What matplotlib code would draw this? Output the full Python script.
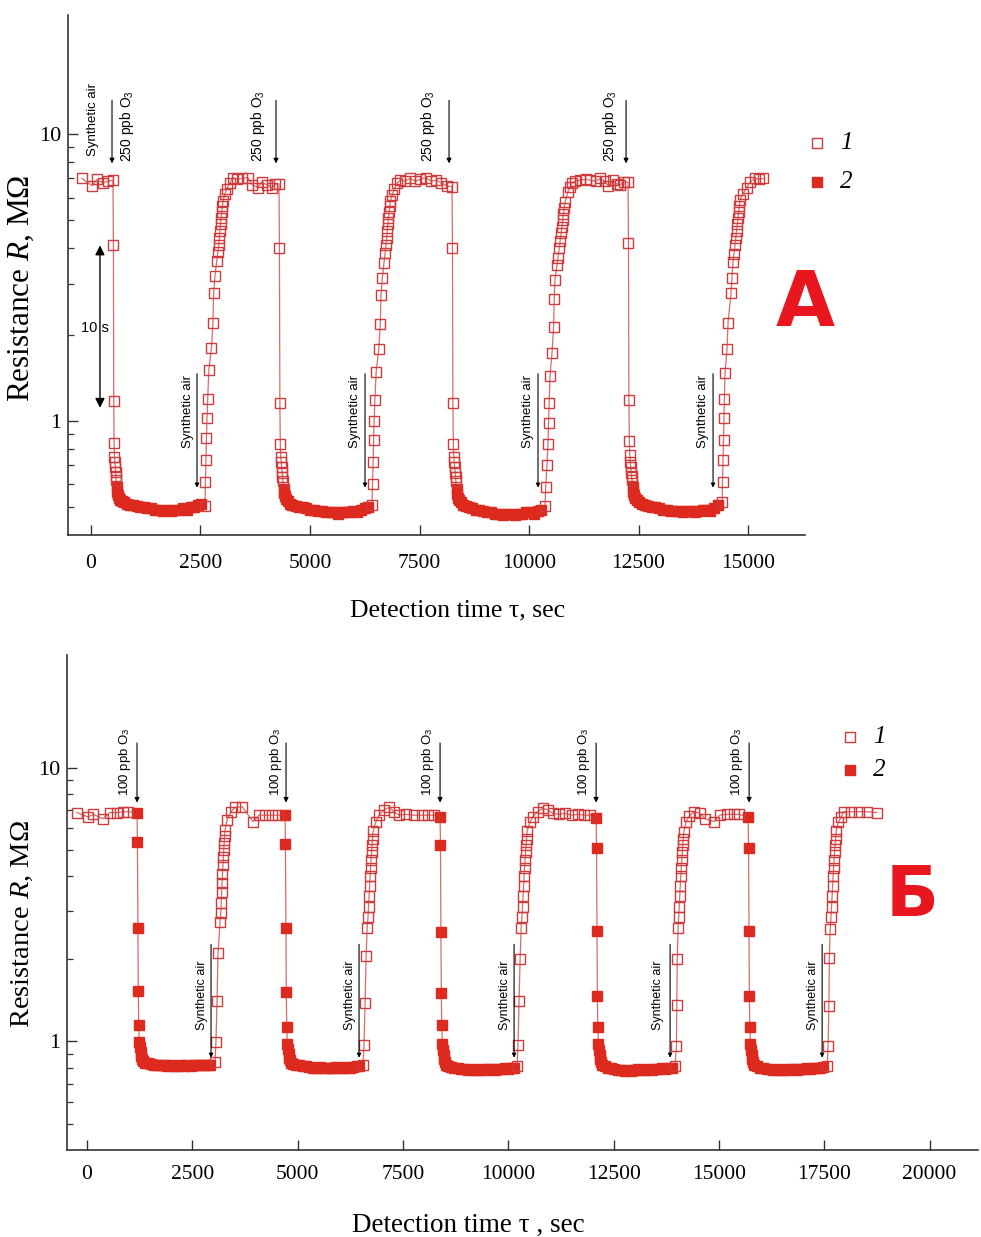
import numpy as np
import matplotlib
matplotlib.use('Agg')
import matplotlib.pyplot as plt
from matplotlib.lines import Line2D
from matplotlib.ticker import FixedLocator, FixedFormatter, NullFormatter

plt.rcParams['mathtext.fontset'] = 'custom'
plt.rcParams['mathtext.rm'] = 'Liberation Sans'
plt.rcParams['mathtext.sf'] = 'Liberation Sans'
plt.rcParams['mathtext.it'] = 'Liberation Serif:italic'

# ---------------- Panel A data (250 ppb O3) ----------------
# series 1 (open squares): time, s ; resistance, MOhm
A1_t = [-205, 23, 137, 274, 390, 502,
        512, 520, 528, 536, 544, 552, 560, 568, 576,
        2600, 2612, 2624, 2636, 2648, 2665, 2690, 2750, 2785, 2800, 2830, 2870, 2895, 2915, 2930,
        2945, 2958, 2970, 2985, 3000, 3015, 3060, 3105, 3170, 3240, 3340, 3450, 3580, 3680, 3810,
        3900, 4020, 4130, 4210, 4292,
        4302, 4312, 4322, 4332, 4342, 4352, 4362, 4372, 4382,
        6415, 6427, 6439, 6452, 6464, 6480, 6510, 6570, 6605, 6620, 6650, 6690, 6715, 6735, 6750,
        6765, 6778, 6790, 6805, 6820, 6835, 6880, 6925, 6990, 7060, 7170, 7280, 7400, 7520, 7640,
        7760, 7880, 8000, 8120, 8242,
        8252, 8262, 8272, 8282, 8292, 8302, 8312, 8322, 8332,
        10365, 10380, 10410, 10433, 10445, 10460, 10479, 10525, 10560, 10575, 10593, 10639, 10662,
        10690, 10710, 10730, 10750, 10770, 10785, 10800, 10821, 10890, 10940, 10990, 11050, 11164,
        11300, 11392, 11520, 11620, 11730, 11803, 11917, 12000, 12077, 12160, 12260,
        12270, 12280, 12290, 12300, 12310, 12320, 12330, 12340, 12350,
        14406, 14418, 14429, 14440, 14451, 14462, 14474, 14520, 14543, 14611, 14634, 14657, 14680,
        14702, 14720, 14740, 14755, 14770, 14785, 14800, 14817, 14885, 14977, 15045, 15159, 15250,
        15342]
A1_r = [7.0, 6.6, 6.95, 6.75, 6.85, 6.9,
        4.1, 1.17, 0.84, 0.75, 0.72, 0.69, 0.665, 0.64, 0.62,
        0.505, 0.61, 0.73, 0.87, 1.02, 1.19, 1.50, 1.80, 2.2, 2.78, 3.2, 3.6, 3.87, 4.1, 4.35,
        4.6, 4.85, 5.1, 5.35, 5.6, 5.85, 6.2, 6.45, 6.75, 7.05, 6.95, 7.0, 7.05, 6.65, 6.5,
        6.8, 6.65, 6.5, 6.7, 6.7,
        4.0, 1.15, 0.83, 0.75, 0.72, 0.69, 0.66, 0.635, 0.615,
        0.51, 0.6, 0.72, 0.86, 1.0, 1.18, 1.48, 1.78, 2.18, 2.75, 3.15, 3.55, 3.85, 4.1, 4.35,
        4.6, 4.85, 5.1, 5.35, 5.6, 5.85, 6.15, 6.45, 6.75, 6.9, 6.85, 7.0, 6.85, 6.95, 7.05,
        6.85, 6.9, 6.75, 6.6, 6.55,
        4.0, 1.15, 0.83, 0.75, 0.72, 0.69, 0.66, 0.635, 0.615,
        0.505, 0.59, 0.70, 0.83, 0.98, 1.15, 1.43, 1.73, 2.12, 2.67, 3.1, 3.5, 3.7,
        4.0, 4.25, 4.5, 4.75, 5.0, 5.25, 5.5, 5.8, 6.3, 6.55, 6.75, 6.85, 6.9,
        6.95, 6.9, 6.85, 7.0, 6.85, 6.6, 6.9, 6.7, 6.65, 6.8, 6.8,
        4.16, 1.18, 0.85, 0.76, 0.72, 0.69, 0.66, 0.64, 0.62,
        0.52, 0.61, 0.73, 0.86, 1.02, 1.19, 1.47, 1.78, 2.2, 2.78, 3.15, 3.57, 3.83,
        4.1, 4.35, 4.6, 4.85, 5.1, 5.35, 5.6, 5.9, 6.2, 6.5, 6.8, 7.0, 6.95,
        7.0]
# series 2 (filled squares)
A2_t = [590, 605, 620, 640, 670, 710, 760, 820, 890, 960, 1040, 1120, 1200, 1290, 1380, 1470,
        1560, 1650, 1740, 1830, 1920, 2010, 2100, 2190, 2280, 2360, 2440, 2510,
        4395, 4410, 4430, 4455, 4490, 4540, 4600, 4670, 4750, 4830, 4910, 5000, 5090, 5180, 5270,
        5360, 5450, 5540, 5630, 5720, 5810, 5900, 5990, 6080, 6170, 6250, 6320,
        8345, 8360, 8380, 8405, 8440, 8490, 8550, 8620, 8700, 8780, 8860, 8950, 9040, 9130, 9220,
        9310, 9400, 9490, 9580, 9670, 9760, 9850, 9940, 10030, 10120, 10200, 10280,
        12365, 12380, 12400, 12425, 12460, 12510, 12570, 12640, 12720, 12800, 12880, 12970, 13060,
        13150, 13240, 13330, 13420, 13510, 13600, 13690, 13780, 13870, 13960, 14050, 14140, 14230,
        14310]
A2_r = [0.59, 0.565, 0.55, 0.54, 0.53, 0.525, 0.52, 0.515, 0.51, 0.51, 0.505, 0.50, 0.50, 0.495,
        0.495, 0.49, 0.49, 0.485, 0.49, 0.485, 0.49, 0.49, 0.495, 0.49, 0.50, 0.50, 0.51, 0.515,
        0.58, 0.56, 0.545, 0.535, 0.525, 0.515, 0.51, 0.505, 0.50, 0.50, 0.495, 0.49, 0.49, 0.485,
        0.485, 0.48, 0.48, 0.48, 0.475, 0.48, 0.48, 0.48, 0.485, 0.48, 0.49, 0.495, 0.50,
        0.58, 0.555, 0.54, 0.53, 0.52, 0.51, 0.505, 0.50, 0.495, 0.49, 0.49, 0.485, 0.48, 0.48,
        0.475, 0.475, 0.47, 0.475, 0.475, 0.47, 0.475, 0.475, 0.48, 0.48, 0.475, 0.485, 0.49,
        0.59, 0.565, 0.55, 0.54, 0.53, 0.52, 0.515, 0.51, 0.505, 0.50, 0.50, 0.495, 0.49,
        0.49, 0.485, 0.485, 0.485, 0.48, 0.485, 0.485, 0.48, 0.485, 0.49, 0.49, 0.485, 0.495,
        0.51]

# ---------------- Panel B data (100 ppb O3) ----------------
B1_t = [-237, 24, 142, 380, 546, 712, 855, 973,
        3039, 3060, 3086, 3110, 3157, 3175, 3185, 3195, 3205, 3215, 3225, 3235, 3245, 3255, 3265,
        3275, 3324, 3419, 3514, 3680, 3941, 4083, 4226, 4392, 4534,
        6552, 6575, 6600, 6625, 6650, 6670, 6682, 6694, 6706, 6718, 6730, 6742, 6754, 6766, 6778,
        6790, 6860, 6930, 7050, 7170, 7290, 7400, 7560, 7750, 7950, 8100, 8230,
        10208, 10230, 10255, 10280, 10305, 10325, 10337, 10349, 10361, 10373, 10385, 10397, 10409,
        10421, 10433, 10445, 10510, 10580, 10700, 10820, 10940, 11060, 11200, 11350, 11500, 11650,
        11800, 11950,
        13959, 13990, 14000, 14010, 14030, 14045, 14057, 14069, 14081, 14093, 14105, 14117, 14129,
        14141, 14153, 14165, 14220, 14300, 14410, 14550, 14670, 14880, 15020, 15190, 15360, 15480,
        17568, 17590, 17610, 17620, 17640, 17660, 17672, 17684, 17696, 17708, 17720, 17732, 17744,
        17756, 17768, 17780, 17830, 17900, 17960, 18140, 18330, 18520, 18750]
B1_r = [6.85, 6.6, 6.75, 6.5, 6.85, 6.85, 6.9, 6.9,
        0.84, 0.99, 1.40, 2.1, 2.72, 2.95, 3.2, 3.5, 3.8, 4.1, 4.4, 4.7, 5.0, 5.3, 5.6,
        5.9, 6.45, 6.9, 7.15, 7.2, 6.35, 6.7, 6.7, 6.7, 6.7,
        0.82, 0.97, 1.38, 2.05, 2.6, 2.85, 3.1, 3.4, 3.7, 4.0, 4.3, 4.6, 4.9, 5.2, 5.5,
        5.85, 6.35, 6.7, 7.0, 7.15, 6.9, 6.7, 6.75, 6.7, 6.7, 6.7, 6.7,
        0.81, 0.97, 1.4, 2.0, 2.6, 2.85, 3.1, 3.4, 3.7, 4.0, 4.3, 4.6, 4.9,
        5.2, 5.5, 5.85, 6.3, 6.6, 6.9, 7.1, 7.0, 6.8, 6.75, 6.8, 6.7, 6.75,
        6.7, 6.7,
        0.81, 0.96, 1.36, 2.0, 2.6, 2.85, 3.1, 3.4, 3.7, 4.0, 4.3, 4.6, 4.9,
        5.2, 5.5, 5.8, 6.35, 6.65, 6.9, 6.8, 6.5, 6.35, 6.7, 6.75, 6.75, 6.75,
        0.81, 0.96, 1.35, 2.02, 2.56, 2.85, 3.1, 3.4, 3.7, 4.0, 4.3, 4.6, 4.9,
        5.2, 5.5, 5.85, 6.3, 6.6, 6.9, 6.9, 6.9, 6.9, 6.85]
B2_t = [1187, 1197, 1207, 1217, 1227, 1240, 1255, 1270, 1285, 1300, 1330, 1380, 1440, 1510, 1580,
        1660, 1740, 1820, 1900, 1980, 2060, 2140, 2220, 2300, 2380, 2460, 2540, 2620, 2700, 2780,
        2860, 2930,
        4700, 4710, 4720, 4730, 4740, 4755, 4770, 4785, 4800, 4815, 4850, 4900, 4970, 5040, 5120,
        5200, 5280, 5360, 5440, 5520, 5600, 5680, 5760, 5840, 5920, 6000, 6080, 6160, 6240, 6320,
        6400, 6460,
        8380, 8390, 8400, 8410, 8420, 8435, 8450, 8465, 8480, 8495, 8530, 8580, 8650, 8720, 8800,
        8880, 8960, 9040, 9120, 9200, 9280, 9360, 9440, 9520, 9600, 9680, 9760, 9840, 9920, 10000,
        10080, 10140,
        12084, 12094, 12104, 12114, 12124, 12139, 12154, 12169, 12184, 12199, 12230, 12290, 12360,
        12440, 12520, 12600, 12680, 12760, 12840, 12920, 13000, 13080, 13160, 13240, 13320, 13400,
        13480, 13560, 13640, 13720, 13800, 13880,
        15692, 15702, 15712, 15722, 15732, 15747, 15762, 15777, 15792, 15807, 15840, 15900, 15970,
        16050, 16130, 16210, 16290, 16370, 16450, 16530, 16610, 16690, 16770, 16850, 16930, 17010,
        17090, 17170, 17250, 17330, 17410, 17480]
B2_r = [6.85, 5.33, 2.6, 1.52, 1.15, 0.99, 0.95, 0.91, 0.88, 0.86, 0.845, 0.835, 0.83, 0.825,
        0.82, 0.82, 0.815, 0.815, 0.81, 0.815, 0.81, 0.81, 0.815, 0.81, 0.815, 0.81, 0.815, 0.815,
        0.82, 0.815, 0.82, 0.82,
        6.7, 5.24, 2.59, 1.51, 1.13, 0.98, 0.94, 0.90, 0.87, 0.85, 0.835, 0.825, 0.82, 0.815, 0.81,
        0.81, 0.805, 0.80, 0.80, 0.805, 0.80, 0.795, 0.80, 0.80, 0.805, 0.80, 0.80, 0.805, 0.80,
        0.805, 0.81, 0.81,
        6.6, 5.2, 2.5, 1.5, 1.15, 0.98, 0.93, 0.89, 0.86, 0.84, 0.82, 0.81, 0.805, 0.80, 0.795,
        0.79, 0.79, 0.785, 0.79, 0.785, 0.785, 0.79, 0.785, 0.79, 0.79, 0.785, 0.79, 0.79, 0.795,
        0.79, 0.795, 0.80,
        6.57, 5.1, 2.52, 1.46, 1.13, 0.98, 0.93, 0.89, 0.86, 0.84, 0.82, 0.81, 0.80, 0.795, 0.79,
        0.785, 0.785, 0.78, 0.785, 0.78, 0.785, 0.79, 0.785, 0.785, 0.79, 0.785, 0.79, 0.79, 0.795,
        0.79, 0.795, 0.80,
        6.6, 5.1, 2.52, 1.46, 1.13, 0.98, 0.93, 0.89, 0.86, 0.84, 0.82, 0.81, 0.80, 0.795, 0.79,
        0.79, 0.785, 0.785, 0.79, 0.785, 0.785, 0.79, 0.79, 0.785, 0.79, 0.79, 0.795, 0.79, 0.795,
        0.80, 0.80, 0.805]

A_xticks = [0, 2500, 5000, 7500, 10000, 12500, 15000]
B_xticks = [0, 2500, 5000, 7500, 10000, 12500, 15000, 17500, 20000]
y_major = [1, 10]
y_major_labels = ['1', '10']
y_minor = [0.5, 0.6, 0.7, 0.8, 0.9, 2, 3, 4, 5, 6, 7, 8, 9]

# annotation anchors (time, resistance)
A_o3_arrow_t = [480, 4224, 8174, 12215]
A_o3_text_t = [822, 3813, 7694, 11850]
A_air_arrow_t = [2420, 6256, 10205, 14201]
A_air_text_t = [2215, 6027, 9977, 13972]
B_o3_arrow_t = [1187, 4724, 8380, 12084, 15716]
B_o3_text_t = [902, 4487, 8095, 11799, 15431]
B_air_arrow_t = [2944, 6457, 10137, 13840, 17449]
B_air_text_t = [2730, 6244, 9923, 13555, 17235]

OPEN_EC = '#cf3b3b'
FILL_C = '#dc2a1e'
LINE_C = '#dd6a6a'
SERIF = 'Liberation Serif'
SANS = 'Liberation Sans'

fig = plt.figure(figsize=(9.81, 12.37), dpi=100)
axA = fig.add_axes([0.0693, 0.5675, 0.7513, 0.4204])
axB = fig.add_axes([0.0683, 0.0703, 0.9287, 0.4002])


def draw(ax, t1, r1, t2, r2, ms):
    t_all = np.concatenate([t1, t2])
    r_all = np.concatenate([r1, r2])
    order = np.argsort(t_all, kind='stable')
    ax.plot(t_all[order], r_all[order], '-', color=LINE_C, lw=0.9, zorder=1)
    ax.plot(t2, r2, 's', ls='none', ms=ms, mfc=FILL_C, mec=FILL_C, mew=1.0, zorder=3)
    ax.plot(t1, r1, 's', ls='none', ms=ms, mfc='none', mec=OPEN_EC, mew=1.0, zorder=4)


def style(ax, xticks, xlim, ylim, xpad):
    ax.set_yscale('log')
    ax.set_xlim(*xlim)
    ax.set_ylim(*ylim)
    for s in ['top', 'right']:
        ax.spines[s].set_visible(False)
    for s in ['left', 'bottom']:
        ax.spines[s].set_color('#333333')
        ax.spines[s].set_linewidth(1.2)
    ax.xaxis.set_major_locator(FixedLocator(xticks))
    ax.yaxis.set_major_locator(FixedLocator(y_major))
    ax.yaxis.set_major_formatter(FixedFormatter(y_major_labels))
    ax.yaxis.set_minor_locator(FixedLocator(y_minor))
    ax.yaxis.set_minor_formatter(NullFormatter())
    ax.xaxis.set_minor_locator(FixedLocator([]))
    ax.tick_params(axis='x', which='major', direction='in', length=7, width=1.0,
                   color='#333333', labelsize=15.5, pad=xpad)
    ax.tick_params(axis='y', which='major', direction='in', length=7, width=1.0,
                   color='#333333', labelsize=16, pad=5)
    ax.tick_params(axis='y', which='minor', direction='in', length=4, width=0.9, color='#333333')
    for lab in ax.get_xticklabels() + ax.get_yticklabels():
        lab.set_fontfamily(SERIF)


def arrow(ax, t, top, bottom, ms=7, lw=0.8):
    ax.annotate('', xy=(t, bottom), xytext=(t, top),
                arrowprops=dict(arrowstyle='-|>', color='black', lw=lw,
                                mutation_scale=ms, shrinkA=0, shrinkB=0), zorder=5)


# ---------------- Panel A ----------------
draw(axA, np.array(A1_t), np.array(A1_r), np.array(A2_t), np.array(A2_r), 7.8)
style(axA, A_xticks, (-525, 16300), (0.40, 26), 14)
axA.set_xlabel('Detection time τ, sec', fontfamily=SERIF, fontsize=18.5)
axA.xaxis.set_label_coords(0.528, -0.124)
axA.set_ylabel('Resistance $\\mathit{R}$, MΩ', fontfamily=SERIF, fontsize=22.5)
axA.yaxis.set_label_coords(-0.044, 0.475)

for ta, tt in zip(A_o3_arrow_t, A_o3_text_t):
    arrow(axA, ta, 13.1, 7.9)
    axA.text(tt, 10.66, '250 ppb O$_3$', rotation=90, ha='center', va='center',
             fontsize=10, fontfamily=SANS)
for ta, tt in zip(A_air_arrow_t, A_air_text_t):
    arrow(axA, ta, 1.46, 0.585, ms=6)
    axA.text(tt, 1.08, 'Synthetic air', rotation=90, ha='center', va='center',
             fontsize=9.5, fontfamily=SANS)
axA.text(46, 11.2, 'Synthetic air', rotation=90, ha='center', va='center',
         fontsize=9.5, fontfamily=SANS)
axA.annotate('', xy=(205, 1.11), xytext=(205, 4.09),
             arrowprops=dict(arrowstyle='<|-|>', color='black', lw=1.0,
                             mutation_scale=14, shrinkA=0, shrinkB=0))
axA.text(91, 2.11, '10 s', ha='center', va='center', fontsize=10.5, fontfamily=SANS)

# ---------------- Panel B ----------------
draw(axB, np.array(B1_t), np.array(B1_r), np.array(B2_t), np.array(B2_r), 7.4)
style(axB, B_xticks, (-475, 21150), (0.40, 25.8), 11)
axB.set_xlabel('Detection time τ , sec', fontfamily=SERIF, fontsize=19.5)
axB.xaxis.set_label_coords(0.441, -0.127)
axB.set_ylabel('Resistance $\\mathit{R}$, MΩ', fontfamily=SERIF, fontsize=20.5)
axB.yaxis.set_label_coords(-0.035, 0.457)

for ta, tt in zip(B_o3_arrow_t, B_o3_text_t):
    arrow(axB, ta, 12.3, 7.45)
    axB.text(tt, 10.5, '100 ppb O$_3$', rotation=90, ha='center', va='center',
             fontsize=9.5, fontfamily=SANS)
for ta, tt in zip(B_air_arrow_t, B_air_text_t):
    arrow(axB, ta, 2.26, 0.87, ms=6)
    axB.text(tt, 1.47, 'Synthetic air', rotation=90, ha='center', va='center',
             fontsize=9, fontfamily=SANS)

# ---------------- legends & panel letters ----------------
def legend_item(xf, yf, filled, label):
    fig.add_artist(Line2D([xf], [yf], transform=fig.transFigure, marker='s', ls='none',
                          ms=6.5, mfc=FILL_C if filled else 'none',
                          mec=FILL_C if filled else OPEN_EC, mew=1.0))
    fig.text(xf + 0.03, yf, label, ha='center', va='center', fontsize=18,
             fontfamily=SERIF, fontstyle='italic')

legend_item(0.8328, 0.8844, False, '1')
legend_item(0.8328, 0.8529, True, '2')
legend_item(0.8665, 0.4042, False, '1')
legend_item(0.8665, 0.3775, True, '2')

fig.text(0.8206, 0.7534, 'А', ha='center', va='center', fontsize=55,
         fontweight='bold', fontfamily='DejaVu Sans', color='#e8171f')
fig.text(0.9297, 0.2749, 'Б', ha='center', va='center', fontsize=50,
         fontweight='bold', fontfamily='DejaVu Sans', color='#e8171f')

fig.savefig('out.png', dpi=100)
